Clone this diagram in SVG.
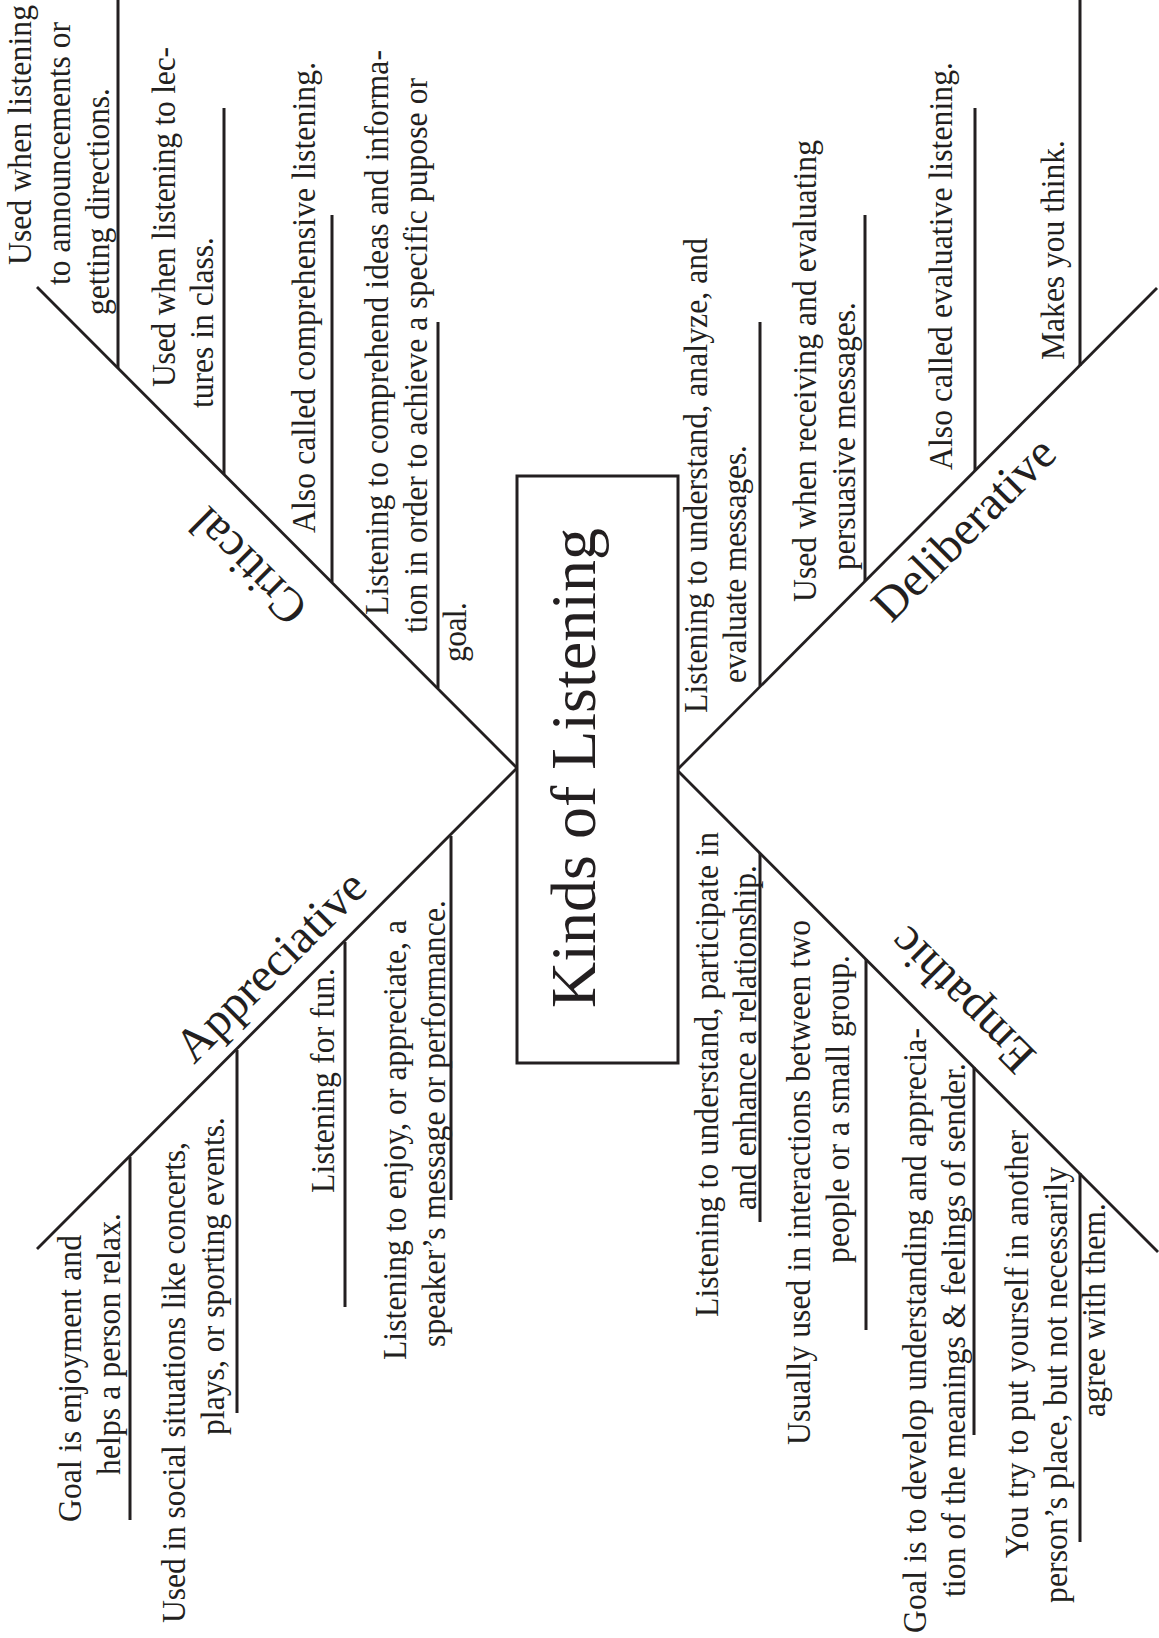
<svg xmlns="http://www.w3.org/2000/svg" width="1159" height="1638" viewBox="0 0 1159 1638">
<style>
.ln{stroke:#231f20;stroke-width:3;fill:none}
.cn{stroke:#231f20;stroke-width:2.8;fill:none}
.d{font-family:"Liberation Serif","Times New Roman",serif;font-size:34px;fill:#231f20}
.lab{font-family:"Liberation Serif","Times New Roman",serif;font-size:48px;fill:#231f20}
.title{font-family:"Liberation Serif","Times New Roman",serif;font-size:64px;fill:#231f20}
</style>
<rect width="1159" height="1638" fill="#ffffff"/>
<g id="connectors">
<line class="cn" x1="37" y1="287" x2="517" y2="768"/>
<line class="cn" x1="517" y1="768" x2="37" y2="1249"/>
<line class="cn" x1="678" y1="769" x2="1157" y2="288"/>
<line class="cn" x1="678" y1="771" x2="1158" y2="1252"/>
</g>
<g id="center">
<rect class="ln" x="517" y="476" width="161" height="587"/>
<text class="title" transform="translate(595,768) rotate(-90)" text-anchor="middle">Kinds of Listening</text>
</g>
<g id="critical">
<text class="lab" transform="translate(310,606) rotate(-135)">Critical</text>
<g id="critical-1">
<line class="ln" x1="118" y1="0" x2="118" y2="368"/>
<text class="d" transform="translate(31,265) rotate(-90) scale(0.93,1)" textLength="279.6" lengthAdjust="spacing">Used when listening</text>
<text class="d" transform="translate(70,285) rotate(-90) scale(0.93,1)" textLength="282.8" lengthAdjust="spacing">to announcements or</text>
<text class="d" transform="translate(109,315) rotate(-90) scale(0.93,1)" textLength="244.1" lengthAdjust="spacing">getting directions.</text>
</g>
<g id="critical-2">
<line class="ln" x1="224" y1="108" x2="224" y2="474"/>
<text class="d" transform="translate(175,387) rotate(-90) scale(0.93,1)" textLength="365.6" lengthAdjust="spacing">Used when listening to lec-</text>
<text class="d" transform="translate(213,408) rotate(-90) scale(0.93,1)" textLength="183.9" lengthAdjust="spacing">tures in class.</text>
</g>
<g id="critical-3">
<line class="ln" x1="332" y1="215" x2="332" y2="582"/>
<text class="d" transform="translate(315,533) rotate(-90) scale(0.93,1)" textLength="506.5" lengthAdjust="spacing">Also called comprehensive listening.</text>
</g>
<g id="critical-4">
<line class="ln" x1="438" y1="322" x2="438" y2="688"/>
<text class="d" transform="translate(388,615) rotate(-90) scale(0.93,1)" textLength="607.5" lengthAdjust="spacing">Listening to comprehend ideas and informa-</text>
<text class="d" transform="translate(427,633) rotate(-90) scale(0.93,1)" textLength="596.8" lengthAdjust="spacing">tion in order to achieve a specific pupose or</text>
<text class="d" transform="translate(466,662) rotate(-90) scale(0.93,1)" textLength="64.5" lengthAdjust="spacing">goal.</text>
</g>
</g>
<g id="deliberative">
<text class="lab" transform="translate(891,624) rotate(-45)">Deliberative</text>
<g id="deliberative-1">
<line class="ln" x1="760" y1="322" x2="760" y2="686"/>
<text class="d" transform="translate(707,713) rotate(-90) scale(0.93,1)" textLength="510.8" lengthAdjust="spacing">Listening to understand, analyze, and</text>
<text class="d" transform="translate(746,683) rotate(-90) scale(0.93,1)" textLength="255.9" lengthAdjust="spacing">evaluate messages.</text>
</g>
<g id="deliberative-2">
<line class="ln" x1="865" y1="215" x2="865" y2="581"/>
<text class="d" transform="translate(816,602) rotate(-90) scale(0.93,1)" textLength="496.8" lengthAdjust="spacing">Used when receiving and evaluating</text>
<text class="d" transform="translate(855,570) rotate(-90) scale(0.93,1)" textLength="288.2" lengthAdjust="spacing">persuasive messages.</text>
</g>
<g id="deliberative-3">
<line class="ln" x1="975" y1="108" x2="975" y2="471"/>
<text class="d" transform="translate(952,470) rotate(-90) scale(0.93,1)" textLength="438.7" lengthAdjust="spacing">Also called evaluative listening.</text>
</g>
<g id="deliberative-4">
<line class="ln" x1="1080" y1="0" x2="1080" y2="366"/>
<text class="d" transform="translate(1064,360) rotate(-90) scale(0.93,1)" textLength="236.6" lengthAdjust="spacing">Makes you think.</text>
</g>
</g>
<g id="appreciative">
<text class="lab" transform="translate(194,1065) rotate(-45)">Appreciative</text>
<g id="appreciative-1">
<line class="ln" x1="130" y1="1157" x2="130" y2="1520"/>
<text class="d" transform="translate(81,1522) rotate(-90) scale(0.93,1)" textLength="308.6" lengthAdjust="spacing">Goal is enjoyment and</text>
<text class="d" transform="translate(120,1475) rotate(-90) scale(0.93,1)" textLength="281.7" lengthAdjust="spacing">helps a person relax.</text>
</g>
<g id="appreciative-2">
<line class="ln" x1="237" y1="1050" x2="237" y2="1413"/>
<text class="d" transform="translate(185,1623) rotate(-90) scale(0.93,1)" textLength="517.2" lengthAdjust="spacing">Used in social situations like concerts,</text>
<text class="d" transform="translate(224,1435) rotate(-90) scale(0.93,1)" textLength="341.9" lengthAdjust="spacing">plays, or sporting events.</text>
</g>
<g id="appreciative-3">
<line class="ln" x1="345" y1="942" x2="345" y2="1307"/>
<text class="d" transform="translate(334,1193) rotate(-90) scale(0.93,1)" textLength="241.9" lengthAdjust="spacing">Listening for fun.</text>
</g>
<g id="appreciative-4">
<line class="ln" x1="451" y1="836" x2="451" y2="1200"/>
<text class="d" transform="translate(406,1360) rotate(-90) scale(0.93,1)" textLength="473.1" lengthAdjust="spacing">Listening to enjoy, or appreciate, a</text>
<text class="d" transform="translate(445,1347) rotate(-90) scale(0.93,1)" textLength="480.6" lengthAdjust="spacing">speaker’s message or performance.</text>
</g>
</g>
<g id="empathic">
<text class="lab" transform="translate(1038,1054) rotate(-135)">Empathic</text>
<g id="empathic-1">
<line class="ln" x1="760" y1="853" x2="760" y2="1222"/>
<text class="d" transform="translate(718,1317) rotate(-90) scale(0.93,1)" textLength="521.5" lengthAdjust="spacing">Listening to understand, participate in</text>
<text class="d" transform="translate(756,1210) rotate(-90) scale(0.93,1)" textLength="371" lengthAdjust="spacing">and enhance a relationship.</text>
</g>
<g id="empathic-2">
<line class="ln" x1="866" y1="959" x2="866" y2="1330"/>
<text class="d" transform="translate(810,1445) rotate(-90) scale(0.93,1)" textLength="564.5" lengthAdjust="spacing">Usually used in interactions between two</text>
<text class="d" transform="translate(849,1263) rotate(-90) scale(0.93,1)" textLength="331.2" lengthAdjust="spacing">people or a small group.</text>
</g>
<g id="empathic-3">
<line class="ln" x1="974" y1="1067" x2="974" y2="1435"/>
<text class="d" transform="translate(926,1633) rotate(-90) scale(0.93,1)" textLength="650.5" lengthAdjust="spacing">Goal is to develop understanding and apprecia-</text>
<text class="d" transform="translate(965,1597) rotate(-90) scale(0.93,1)" textLength="574.2" lengthAdjust="spacing">tion of the meanings &amp; feelings of sender.</text>
</g>
<g id="empathic-4">
<line class="ln" x1="1080" y1="1173" x2="1080" y2="1542"/>
<text class="d" transform="translate(1028,1558) rotate(-90) scale(0.93,1)" textLength="460.2" lengthAdjust="spacing">You try to put yourself in another</text>
<text class="d" transform="translate(1067,1603) rotate(-90) scale(0.93,1)" textLength="468.8" lengthAdjust="spacing">person’s place, but not necessarily</text>
<text class="d" transform="translate(1105,1417) rotate(-90) scale(0.93,1)" textLength="230.1" lengthAdjust="spacing">agree with them.</text>
</g>
</g>
</svg>
